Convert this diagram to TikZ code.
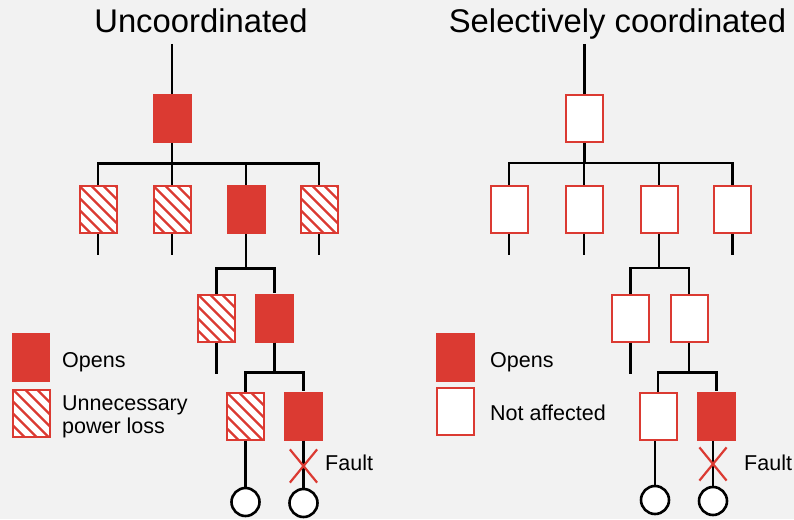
\documentclass[tikz,border=0pt]{standalone}
\usepackage{fontspec}
\setmainfont{Liberation Sans}
\usepackage{tikz}
\usetikzlibrary{positioning,shapes.misc,calc}

\definecolor{brk}{RGB}{219,58,50}
\definecolor{bg}{RGB}{242,242,242}

\tikzset{
  opens/.style={rectangle,fill=brk,draw=none,inner sep=0,minimum width=39pt,minimum height=49pt},
  spare/.style={rectangle,fill=white,draw=brk,line width=2pt,inner sep=0,minimum width=37pt,minimum height=47pt},
  lost/.style={spare,path picture={
      \foreach \d in {-60,-48,...,36}
        \draw[brk,line width=2.3pt] ($(path picture bounding box.north west)+(\d pt,0pt)$) -- ++(70pt,-70pt);}},
  load/.style={circle,draw=black,fill=white,line width=2.6pt,inner sep=0,minimum size=28pt},
  fault/.style={cross out,draw=brk,line width=2.2pt,inner sep=0,minimum width=25pt,minimum height=31pt},
  wire/.style={black,line width=2.6pt},
  title/.style={font=\fontsize{32.8}{38}\selectfont,anchor=base,inner sep=0},
  lbl/.style={font=\fontsize{21.5}{23}\selectfont,anchor=base west,inner sep=0,align=left},
}

\begin{document}
\begin{tikzpicture}[x=1pt,y=-1pt]
    \fill[bg] (0,0) rectangle (794,519);
    \useasboundingbox (0,0) rectangle (794,519);

    % uncoordinated
    \node[title] (lT) at (201,33) {Uncoordinated};
    \coordinate (lIn) at (172,44);
    \node[opens] (lTop) at (172,118.5) {};
    \node[lost] (lA) at (98,209.5) {};
    \node[lost] (lB) at (172,209.5) {};
    \node[opens] (lC) at (246,209.5) {};
    \node[lost] (lD) at (319,209.5) {};
    \node[lost] (lE) at (216.5,318) {};
    \node[opens] (lF) at (274.5,318) {};
    \node[lost] (lG) at (245.5,416) {};
    \node[opens] (lH) at (303.5,416) {};
    \node[load] (lGl) at (245.5,502) {};
    \node[load] (lHl) at (303.5,503) {};
    \coordinate (lAe) at (98,255);
    \coordinate (lBe) at (172,255);
    \coordinate (lDe) at (319,255);
    \coordinate (lEe) at (216.5,374);
    \draw[wire] (lIn) -- (lTop);
    \draw[wire] (lTop.south) -- ++(0,20) -| (lA.north);
    \draw[wire] (lTop.south) -- ++(0,20) -| (lB.north);
    \draw[wire] (lTop.south) -- ++(0,20) -| (lC.north);
    \draw[wire] (lTop.south) -- ++(0,20) -| (lD.north);
    \draw[wire] (lA) -- (lAe);
    \draw[wire] (lB) -- (lBe);
    \draw[wire] (lD) -- (lDe);
    \draw[wire] (lC.south) -- ++(0,34) -| (lE.north);
    \draw[wire] (lC.south) -- ++(0,34) -| (lF.north);
    \draw[wire] (lE) -- (lEe);
    \draw[wire] (lF.south) -- ++(0,30) -| (lG.north);
    \draw[wire] (lF.south) -- ++(0,30) -| (lH.north);
    \draw[wire] (lG) -- (lGl);
    \draw[wire] (lH) -- (lHl);
    \node[fault] (lX) at (303.5,466) {};
    \node[lbl] (lXt) at (325,470) {Fault};

    % legend left
    \node[opens,minimum width=38pt] (lkO) at (31,357.5) {};
    \node[lost] (lkL) at (31.5,413) {};
    \node[lbl] (lkOt) at (62,367) {Opens};
    \node[lbl] (lkLt) at (62,433.5) {Unnecessary\\power loss};

    % selectively coordinated
    \node[title] (rT) at (617.5,33) {Selectively coordinated};
    \coordinate (rIn) at (584.5,44);
    \node[spare] (rTop) at (584.5,118.5) {};
    \node[spare] (rA) at (509,209.5) {};
    \node[spare] (rB) at (584,209.5) {};
    \node[spare] (rC) at (659,209.5) {};
    \node[spare] (rD) at (732.5,209.5) {};
    \node[spare] (rE) at (630.5,318) {};
    \node[spare] (rF) at (689,318) {};
    \node[spare] (rG) at (658,416) {};
    \node[opens] (rH) at (716.5,416) {};
    \node[load] (rGl) at (655,500) {};
    \node[load] (rHl) at (713,501) {};
    \coordinate (rAe) at (509,255);
    \coordinate (rBe) at (584,255);
    \coordinate (rDe) at (732.5,255);
    \coordinate (rEe) at (630.5,374);
    \draw[wire] (rIn) -- (rTop);
    \draw[wire] (rTop.south) -- ++(0,20) -| (rA.north);
    \draw[wire] (rTop.south) -- ++(0,20) -| (rB.north);
    \draw[wire] (rTop.south) -- ++(0,20) -| (rC.north);
    \draw[wire] (rTop.south) -- ++(0,20) -| (rD.north);
    \draw[wire] (rA) -- (rAe);
    \draw[wire] (rB) -- (rBe);
    \draw[wire] (rD) -- (rDe);
    \draw[wire] (rC.south) -- ++(0,34) -| (rE.north);
    \draw[wire] (rC.south) -- ++(0,34) -| (rF.north);
    \draw[wire] (rE) -- (rEe);
    \draw[wire] (rF.south) -- ++(0,30) -| (rG.north);
    \draw[wire] (rF.south) -- ++(0,30) -| (rH.north);
    \draw[wire] (rGl.north) -- (rGl.north |- rG.south);
    \draw[wire] (rHl.north) -- (rHl.north |- rH.south);
    \node[fault] (rX) at (713,464) {};
    \node[lbl] (rXt) at (744,470) {Fault};

    % legend right
    \node[opens] (rkO) at (455.5,357.5) {};
    \node[spare] (rkN) at (455.5,411) {};
    \node[lbl] (rkOt) at (490,367) {Opens};
    \node[lbl] (rkNt) at (490,420) {Not affected};
\end{tikzpicture}
\end{document}
